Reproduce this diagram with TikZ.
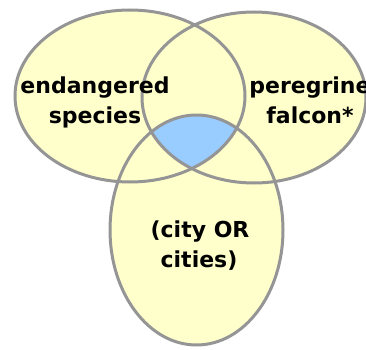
\documentclass[tikz,border=0pt]{standalone}
\usepackage{fontspec}
\setmainfont{DejaVu Sans}
\definecolor{vyellow}{HTML}{FFFFCC}
\definecolor{vblue}{HTML}{99CCFF}
\definecolor{vgray}{HTML}{959595}
\begin{document}
\begin{tikzpicture}[x=1pt,y=1pt,
  setfill/.style={fill=vyellow},
  setline/.style={draw=vgray,line width=3pt},
  lbl/.style={font=\fontsize{22}{27}\selectfont\bfseries,anchor=base,inner sep=0pt}]
\useasboundingbox (0,0) rectangle (366,349);
\def\ellL{(130,253) ellipse [x radius=115,y radius=86]}
\def\ellR{(254,251.5) ellipse [x radius=112,y radius=85.5]}
\def\ellB{(196.5,119) ellipse [x radius=86.5,y radius=115]}
\fill[setfill] \ellL;
\fill[setfill] \ellR;
\fill[setfill] \ellB;
\begin{scope}
  \clip \ellL;
  \clip \ellR;
  \fill[vblue] \ellB;
\end{scope}
\draw[setline] \ellL;
\draw[setline] \ellR;
\draw[setline] \ellB;
\node[lbl] (la) at (95,256) {endangered};
\node[lbl] (lb) at (95,226) {species};
\node[lbl] (ra) at (310,256) {peregrine};
\node[lbl] (rb) at (310,226) {falcon*};
\node[lbl] (ba) at (200,112) {(city OR};
\node[lbl] (bb) at (199,82) {cities)};
\end{tikzpicture}
\end{document}
